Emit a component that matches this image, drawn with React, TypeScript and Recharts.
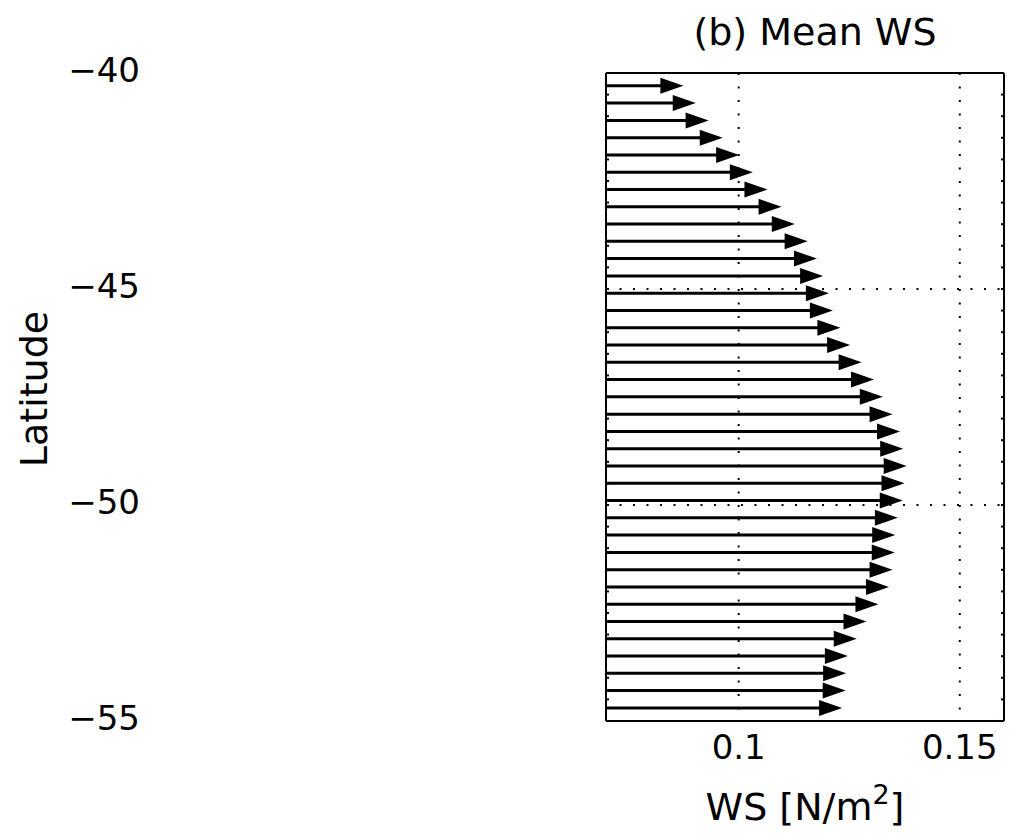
import { ComposedChart, Bar, XAxis, YAxis, CartesianGrid, ReferenceLine } from 'recharts';

// latitude of each arrow (deg)
const latitudes = [
  -40.3, -40.7, -41.1, -41.5, -41.9, -42.3, -42.7, -43.1, -43.5, -43.9,
  -44.3, -44.7, -45.1, -45.5, -45.9, -46.3, -46.7, -47.1, -47.5, -47.9,
  -48.3, -48.7, -49.1, -49.5, -49.9, -50.3, -50.7, -51.1, -51.5, -51.9,
  -52.3, -52.7, -53.1, -53.5, -53.9, -54.3, -54.7,
];

// mean wind stress [N/m^2]
const wsValues = [
  0.0875, 0.0903, 0.0932, 0.0964, 0.1001, 0.1032, 0.1065, 0.1097, 0.1127, 0.1156,
  0.1177, 0.1191, 0.1204, 0.1213, 0.123, 0.1252, 0.1278, 0.1306, 0.1326, 0.1348,
  0.1365, 0.1372, 0.138, 0.1375, 0.1371, 0.136, 0.1354, 0.1353, 0.1348, 0.134,
  0.1316, 0.1289, 0.1267, 0.1247, 0.1243, 0.1242, 0.1234,
];

const xTicks = [0.1, 0.15];
const yTicks = [-55, -50, -45, -40];
const xMinorTicks = [
  0.075, 0.08, 0.085, 0.09, 0.095, 0.1, 0.105, 0.11, 0.115, 0.12,
  0.125, 0.13, 0.135, 0.14, 0.145, 0.15, 0.155,
];
const yMinorTicks = [
  -54.5, -54, -53.5, -53, -52.5, -52, -51.5, -51, -50.5, -50,
  -49.5, -49, -48.5, -48, -47.5, -47, -46.5, -46, -45.5, -45,
  -44.5, -44, -43.5, -43, -42.5, -42, -41.5, -41, -40.5,
];

const xDomain = [0.07, 0.16];
const yDomain = [-55, -40];

const data = latitudes.map((lat, i) => ({ lat, ws: wsValues[i] }));

const FONT = 'DejaVu Sans';
const boxLine = { stroke: '#000', strokeWidth: 2 };
const NoTick = () => <g />;

const Arrow = (props: any) => {
  const { x, y, width, height } = props;
  const cy = y + height / 2;
  const tip = x + width;
  const head = 23;
  return (
    <g>
      <line x1={x} y1={cy} x2={tip - head + 2} y2={cy} stroke="#000" strokeWidth={3} />
      <polygon
        points={`${tip},${cy} ${tip - head},${cy - 8} ${tip - head},${cy + 8}`}
        fill="#000"
      />
    </g>
  );
};

const XLabel = (props: any) => {
  const { viewBox } = props;
  const cx = viewBox.x + viewBox.width / 2;
  const by = viewBox.y + viewBox.height - 8;
  return (
    <text x={cx} y={by} textAnchor="middle" fill="#000" fontSize={38} fontFamily={FONT}>
      <tspan>WS [N/m</tspan>
      <tspan dy={-16} fontSize={27}>2</tspan>
      <tspan dy={16}>]</tspan>
    </text>
  );
};

export default function App() {
  return (
    <ComposedChart
      width={1000}
      height={820}
      data={data}
      layout="vertical"
      margin={{ top: 0, right: 0, bottom: 0, left: 0 }}
      style={{ fontFamily: FONT }}
    >
      <CartesianGrid
        xAxisId="main"
        yAxisId="main"
        stroke="#000"
        strokeWidth={2}
        strokeDasharray="2 11.5"
      />
      {/* title holder */}
      <XAxis
        xAxisId="title"
        orientation="top"
        type="number"
        domain={xDomain}
        height={65}
        tick={false}
        axisLine={false}
        tickLine={false}
        label={{
          value: '(b) Mean WS',
          position: 'insideBottom',
          offset: 28,
          dx: 10,
          fill: '#000',
          fontSize: 38,
        }}
      />
      <XAxis
        xAxisId="main"
        orientation="bottom"
        type="number"
        dataKey="ws"
        domain={xDomain}
        allowDataOverflow
        ticks={xTicks}
        interval={0}
        height={107}
        tickSize={0}
        tickMargin={14}
        axisLine={false}
        tickLine={false}
        tick={{ fill: '#000', fontSize: 34 }}
        label={<XLabel />}
      />
      <YAxis
        yAxisId="main"
        orientation="left"
        type="number"
        dataKey="lat"
        domain={yDomain}
        allowDataOverflow
        reversed
        ticks={yTicks}
        interval={0}
        width={598}
        tickSize={0}
        tickMargin={466}
        axisLine={boxLine}
        tickLine={false}
        tick={{ fill: '#000', fontSize: 34, dy: -3 }}
        tickFormatter={(v: number) => String(v).replace('-', '\u2212')}
        label={{
          value: 'Latitude',
          angle: -90,
          position: 'insideLeft',
          offset: 26,
          dy: -8,
          fill: '#000',
          fontSize: 38,
          style: { textAnchor: 'middle' },
        }}
      />
      {/* right border with inward minor ticks */}
      <YAxis
        yAxisId="boxRight"
        orientation="right"
        width={4}
        type="number"
        dataKey="lat"
        domain={yDomain}
        allowDataOverflow
        reversed
        ticks={yMinorTicks}
        interval={0}
        tickSize={-3}
        tick={<NoTick />}
        axisLine={boxLine}
        tickLine={boxLine}
      />
      {/* box with inward minor ticks */}
      <XAxis
        xAxisId="boxTop"
        orientation="top"
        mirror
        type="number"
        domain={xDomain}
        ticks={xMinorTicks}
        interval={0}
        tickSize={3}
        tick={<NoTick />}
        axisLine={boxLine}
        tickLine={boxLine}
      />
      <XAxis
        xAxisId="boxBottom"
        orientation="bottom"
        mirror
        type="number"
        domain={xDomain}
        ticks={xMinorTicks}
        interval={0}
        tickSize={3}
        tick={<NoTick />}
        axisLine={boxLine}
        tickLine={boxLine}
      />
      <YAxis
        yAxisId="boxLeft"
        orientation="left"
        mirror
        type="number"
        dataKey="lat"
        domain={yDomain}
        allowDataOverflow
        reversed
        ticks={yMinorTicks}
        interval={0}
        tickSize={3}
        tick={<NoTick />}
        axisLine={boxLine}
        tickLine={boxLine}
      />
      <ReferenceLine
        xAxisId="main"
        yAxisId="main"
        x={xDomain[1]}
        stroke="#000"
        strokeWidth={2}
        ifOverflow="visible"
      />
      <Bar
        xAxisId="main"
        yAxisId="main"
        dataKey="ws"
        barSize={17}
        shape={<Arrow />}
        isAnimationActive={false}
      />
    </ComposedChart>
  );
}
